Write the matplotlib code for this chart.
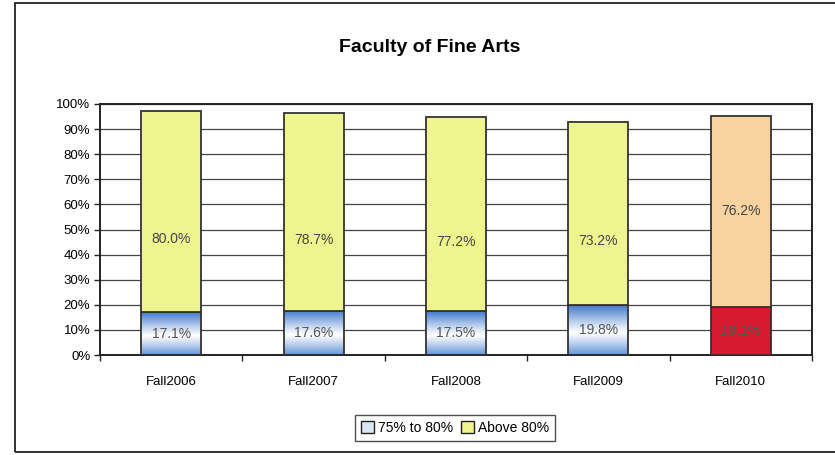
import matplotlib
matplotlib.use("Agg")
import matplotlib.pyplot as plt
import numpy as np
from matplotlib.patches import Rectangle, Patch

categories = ["Fall2006", "Fall2007", "Fall2008", "Fall2009", "Fall2010"]
range_75_80 = [17.1, 17.6, 17.5, 19.8, 19.1]
above_80 = [80.0, 78.7, 77.2, 73.2, 76.2]
yticks = [0, 10, 20, 30, 40, 50, 60, 70, 80, 90, 100]

plt.rcParams['font.family'] = ['Liberation Sans', 'DejaVu Sans']

fig = plt.figure(figsize=(8.35, 4.55), dpi=100)
ax = fig.add_axes([100/835, 1-355/455, 712/835, 251/455])

x = np.arange(len(categories))
w = 0.42

# gradient for bottom segments
grad = np.linspace(0, 1, 256)
blue = np.array([0.25, 0.47, 0.80])
white = np.array([1.0, 1.0, 1.0])
tvals = np.abs(grad - 0.45) / 0.55
tvals = np.clip(tvals, 0, 1) ** 1.1
cols = white[None, :] * (1 - tvals[:, None]) + blue[None, :] * tvals[:, None]
img = cols[:, None, :]

yellow = "#eef58e"
tan = "#f8d3a0"
red = "#d81a30"

for i, (b, t) in enumerate(zip(range_75_80, above_80)):
    last = (i == len(categories) - 1)
    if last:
        ax.bar(x[i], b, w, color=red, edgecolor="#333333", linewidth=1.3, zorder=3)
        ax.bar(x[i], t, w, bottom=b, color=tan, edgecolor="#333333", linewidth=1.3, zorder=3)
        ty = b + t / 2
    else:
        ax.imshow(img, extent=[x[i]-w/2, x[i]+w/2, 0, b], aspect='auto', origin='lower', zorder=2.5)
        ax.bar(x[i], b, w, facecolor='none', edgecolor="#333333", linewidth=1.3, zorder=3)
        ax.bar(x[i], t, w, bottom=b, color=yellow, edgecolor="#333333", linewidth=1.3, zorder=3)
        ty = b + t / 2 - 11
    ax.text(x[i], b/2, f"{b:.1f}%", ha='center', va='center', fontsize=10, color="#555555", zorder=4)
    ax.text(x[i], ty, f"{t:.1f}%", ha='center', va='center', fontsize=10, color="#444444", zorder=4)

ax.set_xlim(-0.5, len(categories) - 0.5)
ax.set_ylim(0, 100)
ax.set_yticks(yticks)
ax.set_yticklabels([f"{v}%" for v in yticks], fontsize=9.5)
ax.set_xticks(x)
ax.set_xticklabels(categories, fontsize=9.5)
ax.set_xticks(np.arange(len(categories)+1) - 0.5, minor=True)
ax.tick_params(axis='x', which='major', length=0, pad=15)
ax.tick_params(axis='x', which='minor', length=4, width=1, color="#222222")
ax.tick_params(axis='y', length=4, width=1, color="#222222", pad=3)
ax.yaxis.grid(True, color="#444444", linewidth=0.9, zorder=0)
ax.set_axisbelow(True)
for s in ax.spines.values():
    s.set_color("#222222")
    s.set_linewidth(1.4)

fig.text(430/835, 1-48/455, "Faculty of Fine Arts", ha='center', va='center',
         fontsize=14, fontweight='bold', family=['Liberation Sans Narrow', 'Liberation Sans'])

handles = [Patch(facecolor="#d8e6f5", edgecolor="#222222", label="75% to 80%"),
           Patch(facecolor=yellow, edgecolor="#222222", label="Above 80%")]
leg = fig.legend(handles=handles, loc='center', bbox_to_anchor=(455/835, 1-428/455), ncol=2,
                 fontsize=10, frameon=True, fancybox=False, edgecolor="#222222",
                 handlelength=0.9, handleheight=0.9, handletextpad=0.3, columnspacing=0.6,
                 borderpad=0.4)
leg.get_frame().set_linewidth(1.0)

fig.patches.append(Rectangle((15/835, 3/455), 1.0, 449/455, transform=fig.transFigure,
                             fill=False, edgecolor="#222222", linewidth=1.3))

fig.savefig("out.png", dpi=100)
